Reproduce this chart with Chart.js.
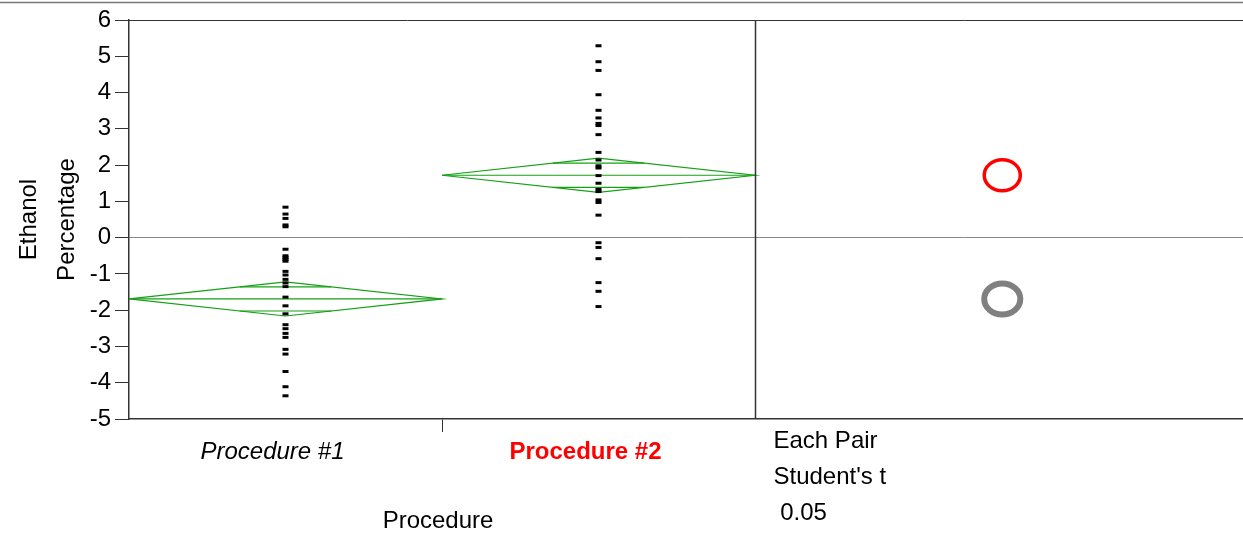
<!DOCTYPE html>
<html><head><meta charset="utf-8">
<script src="https://cdn.jsdelivr.net/npm/chart.js@4.4.1/dist/chart.umd.min.js"></script>
<style>html,body{margin:0;padding:0;background:#fff;} canvas{display:block;}</style>
</head><body>
<canvas id="c" width="1243" height="545"></canvas>
<script>
// ---- data ----
const categories = ["Procedure #1", "Procedure #2"];
const procedure1 = [0.84, 0.65, 0.53, 0.35, 0.30, -0.32, -0.50, -0.55, -0.60, -0.65, -0.93, -1.03, -1.15, -1.25, -1.35, -1.64, -1.88, -2.10, -2.40, -2.51, -2.64, -2.75, -3.08, -3.21, -3.69, -4.11, -4.36];
const procedure2 = [5.29, 4.85, 4.61, 3.94, 3.51, 3.30, 3.15, 3.09, 2.84, 2.35, 2.14, 1.92, 1.98, 1.71, 1.50, 1.27, 1.33, 1.04, 0.97, 0.62, -0.14, -0.27, -0.58, -1.24, -1.48, -1.90];
const groupMeans = [-1.69, 1.72];
const ciHalfWidth = [0.47, 0.47];
const yTickMin = -5, yTickMax = 6;
const yTitle = ["Ethanol", "Percentage"];
const xTitle = "Procedure";
const testInfo = ["Each Pair", "Student's t", " 0.05"];
const selectedGroup = 1; // Procedure #2 highlighted

// ---- layout / style ----
const FONT = "'Liberation Sans', Arial, sans-serif";
const FS = 24;
const X_MAX = 1114 / 313;      // two category columns + comparison-circle panel
const CIRCLE_X = 2.79;         // position of comparison circles inside panel
const GREEN = '#14a014';
const AXIS = '#333';

const groupValues = [procedure1, procedure2];
const datasets = [];
groupValues.forEach((vals, i) => {
  datasets.push({
    label: categories[i],
    data: vals.map(v => ({x: i + 0.5, y: v})),
    pointStyle: 'line', pointRadius: 3, borderWidth: 3,
    borderColor: '#000', backgroundColor: '#000', showLine: false, order: 0
  });
});
const lineDs = (pts) => ({data: pts, showLine: true, pointRadius: 0, borderColor: GREEN, borderWidth: 1.2, fill: false, tension: 0, order: 1, clip: false});
groupMeans.forEach((m, i) => {
  const h = ciHalfWidth[i], cx = i + 0.5;
  datasets.push(lineDs([{x:i,y:m},{x:cx,y:m+h},{x:i+1,y:m},{x:cx,y:m-h},{x:i,y:m}]));
  datasets.push(lineDs([{x:i,y:m},{x:i+1,y:m}]));
  const d = h / Math.SQRT2, w = 0.5 * (1 - 1 / Math.SQRT2);
  datasets.push(lineDs([{x:cx-w,y:m+d},{x:cx+w,y:m+d}]));
  datasets.push(lineDs([{x:cx-w,y:m-d},{x:cx+w,y:m-d}]));
});

const extras = {
  id: 'extras',
  afterDraw(chart) {
    const {ctx, chartArea: a, scales: {x, y}} = chart;
    ctx.save();
    // top gray rule
    ctx.strokeStyle = '#777'; ctx.lineWidth = 1.5;
    ctx.beginPath(); ctx.moveTo(0, 2.5); ctx.lineTo(chart.width, 2.5); ctx.stroke();
    // frame top + divider
    ctx.strokeStyle = AXIS; ctx.lineWidth = 1;
    ctx.beginPath(); ctx.moveTo(a.left, a.top + 0.5); ctx.lineTo(a.right, a.top + 0.5); ctx.stroke();
    const xd = Math.round(x.getPixelForValue(2)) + 0.5;
    ctx.lineWidth = 1.5;
    ctx.beginPath(); ctx.moveTo(xd, a.top); ctx.lineTo(xd, a.bottom); ctx.stroke();
    // comparison circles
    groupMeans.forEach((m, i) => {
      const cy = y.getPixelForValue(m);
      const r = Math.abs(y.getPixelForValue(m + ciHalfWidth[i]) - cy);
      const sel = i === selectedGroup;
      const lw = sel ? 3.5 : 6;
      const ry = r - 1.5;
      ctx.strokeStyle = sel ? '#ff0000' : '#808080';
      ctx.lineWidth = lw;
      ctx.beginPath();
      ctx.ellipse(x.getPixelForValue(CIRCLE_X), cy, ry * 1.16, ry, 0, 0, Math.PI * 2);
      ctx.stroke();
    });
    // texts
    ctx.fillStyle = '#000';
    ctx.font = `${FS}px ${FONT}`;
    ctx.textBaseline = 'middle';
    ctx.textAlign = 'center';
    ctx.fillText(xTitle, x.getPixelForValue(1) - 4, 521);
    ctx.textAlign = 'left';
    testInfo.forEach((t, k) => ctx.fillText(t, xd + 18, 441 + k * 36));
    ctx.restore();
  }
};

new Chart(document.getElementById('c'), {
  type: 'scatter',
  data: {datasets},
  options: {
    responsive: false, animation: false,
    layout: {autoPadding: false, padding: {top: 20, right: 0, left: 0, bottom: 0}},
    plugins: {legend: {display: false}, tooltip: {enabled: false}},
    scales: {
      x: {
        type: 'linear', min: 0, max: X_MAX,
        afterBuildTicks: (axis) => { axis.ticks = [0.5, 1, 1.5].map(v => ({value: v})); },
        afterFit: (s) => { s.height = 126; },
        border: {display: true, color: AXIS, width: 1.5},
        grid: {drawOnChartArea: false, tickLength: 13,
               tickColor: (c) => (c.tick && c.tick.value === 1) ? AXIS : 'rgba(0,0,0,0)'},
        ticks: {
          autoSkip: false, maxRotation: 0, padding: 6, labelOffset: -13,
          callback: (v) => v === 0.5 ? categories[0] : (v === 1.5 ? categories[1] : ''),
          color: (c) => (c.tick && c.tick.value === 1.5) ? '#ff0000' : '#000',
          font: (c) => ({family: FONT, size: FS,
                         style: (c.tick && c.tick.value === 0.5) ? 'italic' : 'normal',
                         weight: (c.tick && c.tick.value === 1.5) ? 'bold' : 'normal'})
        }
      },
      y: {
        type: 'linear', min: yTickMin, max: yTickMax,
        afterFit: (s) => { s.width = 129; },
        border: {display: true, color: AXIS, width: 1.5},
        grid: {drawOnChartArea: true, tickLength: 14, tickColor: AXIS,
               color: (c) => (c.tick && c.tick.value === 0) ? '#888' : 'rgba(0,0,0,0)'},
        ticks: {stepSize: 1, padding: 4, color: '#000', font: {family: FONT, size: FS}},
        title: {display: true, text: yTitle, color: '#000', padding: {top: 10, bottom: 0},
                font: {family: FONT, size: FS, lineHeight: 38 / FS}}
      }
    }
  },
  plugins: [extras]
});
</script>
</body></html>
